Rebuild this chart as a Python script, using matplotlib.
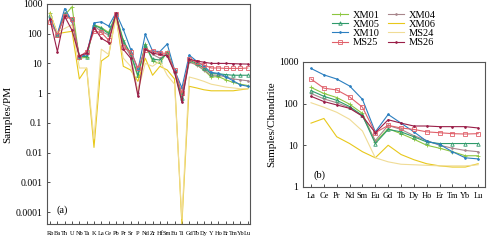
import matplotlib
matplotlib.use('Agg')
import matplotlib.pyplot as plt
from matplotlib.ticker import FixedLocator, FixedFormatter, NullLocator

plt.rcParams['font.family'] = ['Liberation Serif', 'DejaVu Serif']

# spider diagram elements (primitive mantle normalised)
pm_elements = ['Rb', 'Ba', 'Th', 'U', 'Nb', 'Ta', 'K', 'La', 'Ce', 'Pb', 'Pr', 'Sr', 'P', 'Nd',
               'Zr', 'Hf', 'Sm', 'Eu', 'Ti', 'Gd', 'Tb', 'Dy', 'Y', 'Ho', 'Er', 'Tm', 'Yb', 'Lu']
# REE (chondrite normalised)
ree_elements = ['La', 'Ce', 'Pr', 'Nd', 'Sm', 'Eu', 'Gd', 'Tb', 'Dy', 'Ho', 'Er', 'Tm', 'Yb', 'Lu']

samples = ['XM01', 'XM04', 'XM05', 'XM06', 'XM10', 'MS24', 'MS25', 'MS26']

pm_XM01 = [480, 100, 420, 800, 15, 16, 200, 160, 110, 450, 60, 20, 3.5, 45, 12, 10, 25, 6, 0.9,
           12, 9, 6, 3.5, 3.6, 2.8, 2.3, 2.0, 1.8]
pm_XM04 = [350, 85, 500, 260, 18, 20, 180, 120, 90, 400, 45, 18, 1.0, 35, 20, 15, 20, 5, 0.6,
           11, 9, 6, 4, 4, 3.5, 3, 2.8, 2.6]
pm_XM05 = [420, 90, 450, 300, 17, 17, 190, 150, 100, 420, 55, 22, 4, 40, 14, 13, 22, 5.5, 0.7,
           13, 10, 7, 4.5, 4.5, 4.2, 4.0, 4.0, 4.0]
pm_XM06 = [500, 100, 110, 120, 3, 7, 0.015, 12, 18, 420, 8, 6, 2.5, 15, 4, 8, 6, 3, 0.00004,
           1.7, 1.5, 1.3, 1.2, 1.2, 1.2, 1.2, 1.3, 1.4]
pm_XM10 = [330, 95, 700, 260, 16, 20, 230, 250, 180, 500, 140, 30, 6, 95, 26, 25, 45, 6, 1.5,
           19, 12, 8, 5, 4.6, 3.6, 2.6, 1.9, 1.7]
pm_MS24 = [450, 110, 150, 200, 7, 7, 0.03, 30, 20, 350, 15, 8, 1.2, 10, 8, 12, 4, 2, 0.00006,
           3.5, 3, 2.5, 2, 1.8, 1.6, 1.5, 1.4, 1.4]
pm_MS25 = [250, 90, 400, 300, 17, 25, 120, 110, 60, 450, 35, 25, 7, 28, 26, 22, 22, 6, 1.0,
           14, 11, 9, 7, 7, 6.8, 6.8, 6.8, 7]
pm_MS26 = [300, 25, 380, 130, 18, 22, 160, 70, 50, 480, 30, 15, 0.8, 30, 22, 20, 18, 5, 0.5,
           14, 12, 11, 10, 10, 10, 9.8, 9.6, 9.5]

ree_XM01 = [245, 175, 140, 97, 58, 12, 25, 19, 14, 10, 8.5, 7, 5.6, 5.6]
ree_XM04 = [175, 130, 105, 80, 50, 13, 30, 24, 17, 13, 10, 8.5, 7.5, 7]
ree_XM05 = [205, 150, 120, 85, 52, 11, 24, 21, 16, 12, 11, 11, 11, 11]
ree_XM06 = [34, 44, 16, 11, 7, 5, 10, 6, 4.5, 3.6, 3.2, 3.0, 3.0, 3.6]
ree_XM10 = [700, 490, 390, 265, 127, 21, 55, 34, 21, 12.5, 10.5, 7, 5, 4.7]
ree_MS24 = [105, 82, 62, 42, 22, 5, 4, 3.5, 3.4, 3.3, 3.2, 3.2, 3.2, 3.4]
ree_MS25 = [390, 235, 213, 145, 82, 20, 30, 26, 24, 21, 20, 19, 18.6, 19]
ree_MS26 = [150, 112, 93, 77, 50, 20, 41, 34, 29, 29, 28, 28, 28, 26]

pm_data = [pm_XM01, pm_XM04, pm_XM05, pm_XM06, pm_XM10, pm_MS24, pm_MS25, pm_MS26]
ree_data = [ree_XM01, ree_XM04, ree_XM05, ree_XM06, ree_XM10, ree_MS24, ree_MS25, ree_MS26]

# colour, marker, marker face per sample
styles = {
    'XM01': ('#8cc63f', '+', 'full'),
    'XM04': ('#a8868c', '.', 'full'),
    'XM05': ('#2e9a6a', '^', 'none'),
    'XM06': ('#e8c81a', '', 'full'),
    'XM10': ('#2b7fc0', '.', 'full'),
    'MS24': ('#f0dc96', '', 'full'),
    'MS25': ('#e0606a', 's', 'none'),
    'MS26': ('#9a1e48', '.', 'full'),
}

fig = plt.figure(figsize=(4.96, 2.44), dpi=100)
ax1 = fig.add_axes([0.095, 0.082, 0.409, 0.902])
ax2 = fig.add_axes([0.611, 0.234, 0.367, 0.512])


def draw(ax, data, n):
    for name, vals in zip(samples, data):
        c, m, fs = styles[name]
        ax.plot(range(n), vals, color=c, lw=0.8, marker=m if m else None,
                markersize=2.5, mew=0.6, fillstyle=fs, label=name)


draw(ax1, pm_data, len(pm_elements))
draw(ax2, ree_data, len(ree_elements))

for ax in (ax1, ax2):
    ax.set_yscale('log')
    ax.yaxis.set_minor_locator(NullLocator())
    ax.tick_params(direction='in', length=2.5, width=0.6, colors='#333333', labelcolor='black')
    for s in ax.spines.values():
        s.set_linewidth(0.8)
        s.set_color('#555555')

ax1.set_xlim(-0.4, 27.3)
ax1.set_ylim(4e-5, 1000)
ax1.set_xticks(range(len(pm_elements)))
ax1.set_xticklabels(pm_elements, fontsize=4.6)
ax1.tick_params(axis='x', pad=5)
yt1 = [0.0001, 0.001, 0.01, 0.1, 1, 10, 100, 1000]
ax1.yaxis.set_major_locator(FixedLocator(yt1))
ax1.yaxis.set_major_formatter(FixedFormatter(['0.0001', '0.001', '0.01', '0.1', '1', '10', '100', '1000']))
ax1.tick_params(axis='y', labelsize=7)
ax1.set_ylabel('Samples/PM', fontsize=8, labelpad=2)
ax1.text(0.045, 0.05, '(a)', transform=ax1.transAxes, fontsize=7.5)

ax2.set_xlim(-0.62, 13.54)
ax2.set_ylim(1, 1000)
ax2.set_xticks(range(len(ree_elements)))
ax2.set_xticklabels(ree_elements, fontsize=6)
ax2.tick_params(axis='x', pad=4)
yt2 = [1, 10, 100, 1000]
ax2.yaxis.set_major_locator(FixedLocator(yt2))
ax2.yaxis.set_major_formatter(FixedFormatter(['1', '10', '100', '1000']))
ax2.tick_params(axis='y', labelsize=7)
ax2.set_ylabel('Samples/Chondrite', fontsize=8, labelpad=2)
ax2.text(0.055, 0.07, '(b)', transform=ax2.transAxes, fontsize=7.5)

# legend reads row by row: reorder so the two columns come out right
handles, labels = ax2.get_legend_handles_labels()
order = [0, 2, 4, 6, 1, 3, 5, 7]
fig.legend([handles[i] for i in order], [labels[i] for i in order], ncol=2,
           loc='upper left', bbox_to_anchor=(0.66, 0.975),
           frameon=False, fontsize=7.5, handlelength=1.6, handletextpad=0.4,
           columnspacing=0.8, labelspacing=0.0, borderaxespad=0)

plt.savefig('out.png', dpi=100)
plt.close()
